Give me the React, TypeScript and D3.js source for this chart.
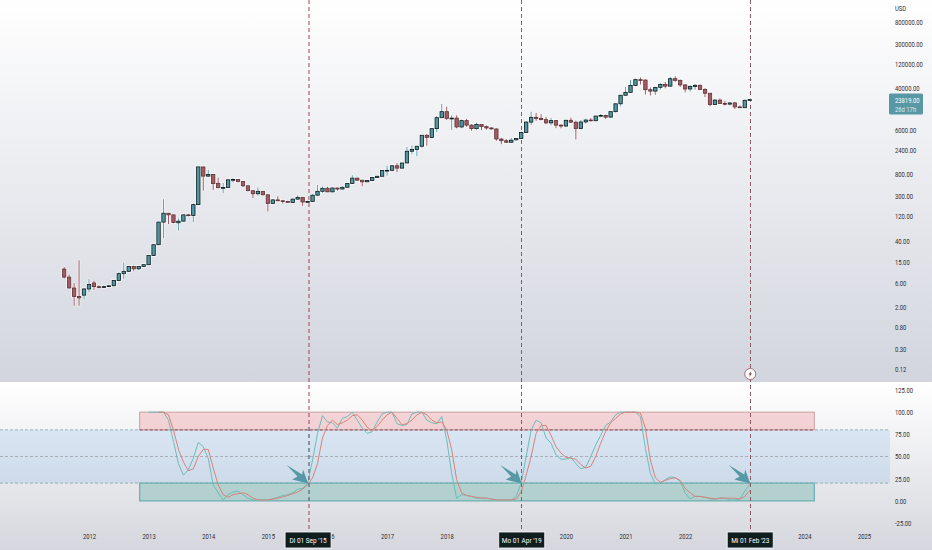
import { useEffect, useRef } from "react";
import * as d3 from "d3";

const width = 932;
const height = 550;
const paneSplit = 382;
const axisX = 890;

// monthly candles, Aug 2011 .. Feb 2023
const opens = [
  11.1, 7.7, 4.7, 3.2, 3.4,
  4.5, 5.9, 5.0, 4.9, 5.0, 5.2, 6.6, 9.0, 10, 12.4, 11.2, 12.5,
  13.5, 20.4, 33.4, 93, 139, 129, 90, 97, 129, 125, 205, 1130,
  745, 800, 538, 440, 445, 630, 640, 585, 480, 385, 335, 375,
  320, 217, 254, 244, 236, 225, 263, 285, 231, 236, 314, 375,
  430, 365, 435, 415, 450, 535, 680, 620, 575, 610, 700, 740,
  960, 970, 1190, 1070, 1350, 2300, 2480, 2880, 4740, 4300, 6400, 10500,
  13800, 10200, 10300, 6900, 9200, 7500, 6400, 7700, 7000, 6600, 6300, 4000,
  3700, 3450, 3850, 4100, 5350, 8600, 10700, 10100, 9600, 8300, 9200, 7500,
  7200, 9350, 8550, 6420, 8650, 9450, 9150, 11300, 11650, 10780, 13800, 19700,
  29000, 33100, 45300, 58800, 57800, 37300, 35000, 41500, 47100, 43800, 61300, 57000,
  46300, 38500, 43200, 45500, 37600, 31800, 19000, 23300, 20000, 19400, 20500, 17100,
  16500, 23100,
];
const highs = [
  12.2, 8.7, 5.9, 16.5, 4.7,
  7.1, 6.6, 5.3, 5.3, 5.3, 6.8, 9.6, 15, 12.6, 13, 12.7, 14,
  21, 33.5, 94, 261, 140, 130, 110, 130, 135, 215, 1135, 1135,
  1000, 810, 700, 545, 640, 680, 650, 600, 490, 395, 450, 380,
  325, 265, 300, 255, 245, 270, 315, 285, 245, 330, 500, 465,
  460, 445, 440, 470, 550, 780, 700, 620, 620, 720, 760, 980,
  1200, 1210, 1350, 1370, 2790, 3000, 2950, 4780, 5000, 6500, 11400, 19600,
  17300, 11700, 11700, 9700, 10000, 7800, 8400, 7700, 7400, 6800, 6500, 4200,
  4000, 4200, 4150, 5600, 9000, 13800, 13000, 12300, 10900, 10400, 9500, 7750,
  9550, 10500, 9200, 9500, 10100, 10400, 11450, 12400, 12100, 14100, 19900, 29300,
  42000, 58300, 61800, 64800, 59500, 41300, 42500, 50500, 52900, 67000, 69000, 59000,
  47900, 45800, 48200, 47400, 40000, 31900, 24600, 25200, 22700, 20900, 21500, 18300,
  23900, 24300,
];
const lows = [
  7.2, 4.6, 2.1, 2.1, 2.8,
  3.9, 4.3, 4.6, 4.7, 4.9, 5.1, 6.4, 7, 9.8, 10, 10.6, 12.2,
  13.3, 20, 33, 45, 85, 88, 63, 95, 120, 92, 200, 385,
  720, 395, 430, 345, 440, 555, 560, 450, 375, 275, 305, 310,
  150, 210, 240, 215, 225, 220, 255, 193, 225, 235, 310, 350,
  360, 360, 385, 410, 440, 525, 605, 470, 570, 605, 695, 735,
  760, 930, 890, 1060, 1340, 2000, 1830, 2700, 2950, 4150, 5500, 10400,
  9400, 6000, 6500, 6500, 7000, 5800, 6100, 6000, 6100, 6200, 3700, 3150,
  3350, 3400, 3750, 4050, 5300, 7500, 9100, 9350, 7800, 7400, 6500, 6450,
  6850, 8400, 3900, 6200, 8100, 8900, 8950, 11000, 9900, 10400, 13200, 17600,
  28800, 32300, 45000, 47000, 30000, 28800, 29300, 37300, 39600, 43300, 53300, 42000,
  33000, 34300, 37300, 37500, 26700, 17600, 18800, 19600, 18200, 18200, 15500, 16300,
  16500, 22800,
];
const closes = [
  7.7, 4.7, 3.2, 3.0, 4.5,
  5.5, 5.0, 4.9, 5.0, 5.2, 6.6, 9.0, 10, 12.4, 11.2, 12.5, 13.5,
  20.4, 33.4, 93, 139, 129, 91, 97, 129, 125, 205, 1130, 745,
  800, 530, 441, 445, 630, 640, 585, 480, 385, 335, 375, 320,
  217, 254, 244, 236, 230, 263, 285, 231, 236, 314, 375, 430,
  365, 435, 415, 450, 535, 680, 620, 575, 610, 700, 740, 960,
  970, 1190, 1070, 1350, 2300, 2500, 2880, 4740, 4300, 6400, 10500, 13800,
  10200, 10300, 6900, 9200, 7500, 6400, 7700, 7000, 6600, 6300, 4000, 3700,
  3450, 3800, 4100, 5350, 8600, 10680, 10100, 9600, 8300, 9200, 7500, 7200,
  9350, 8550, 6420, 8650, 9450, 9150, 11300, 11650, 10780, 13800, 19700, 29000,
  33100, 45300, 58800, 57800, 37300, 35000, 41500, 47100, 43800, 61300, 57000, 46300,
  38500, 43200, 45500, 37600, 31800, 19000, 23300, 20000, 19400, 20500, 17100, 16500,
  23100, 23819,
];

// stoch rsi, K from Jan 2013 and D from Mar 2013
const stochK = [
  100, 100, 100, 100, 91, 67, 42, 29, 35, 48, 66, 61,
  48, 18, 9, 1, 7, 10, 11, 7, 3, 1, 1, 1,
  1, 2, 4, 6, 7, 9, 13, 14, 20, 46, 76, 96,
  89, 88, 82, 93, 95, 100, 91, 82, 76, 78, 89, 98,
  100, 100, 87, 85, 86, 98, 100, 100, 91, 88, 87, 95,
  69, 31, 3, 7, 6, 5, 3, 3, 3, 2, 1, 1,
  1, 1, 5, 20, 50, 80, 91, 88, 71, 65, 52, 47,
  47, 49, 42, 36, 38, 50, 63, 74, 85, 89, 97, 100,
  100, 100, 100, 95, 59, 31, 19, 20, 24, 27, 26, 22,
  9, 2, 5, 5, 4, 2, 2, 3, 3, 1, 1, 2,
  11, 19,
];
const stochD = [
  100, 100, 97, 80, 58, 44, 34, 36, 50, 58,
  58, 37, 18, 7, 4, 7, 8, 9, 7, 3, 1, 1,
  1, 2, 3, 4.5, 6, 8, 10, 13, 18, 26, 42, 71,
  85, 91, 86, 88, 91, 96, 97, 91, 83, 79, 84, 91,
  97, 100, 93, 86, 87, 91, 97, 100, 97, 91, 88, 89,
  80, 58, 24, 9, 6, 5, 4, 3, 3, 2, 1, 1,
  1, 1, 2, 10, 29, 50, 76, 85, 85, 74, 61, 54,
  49, 48, 47, 41, 37, 39, 50, 65, 78, 88, 93, 98,
  100, 100, 100, 99, 82, 46, 26, 21, 23, 25, 26, 23,
  14, 9, 5, 5, 4, 3, 2, 3, 3, 3, 3, 2,
  5, 12,
];

const priceTicks = [800000, 300000, 120000, 40000, 6000, 2400, 800, 300, 120, 40, 15, 6, 2, 0.8, 0.3, 0.12];
const stochTicks = [125, 100, 75, 50, 25, 0, -25];
// 2019 and 2023 sit fully behind the date tags
const yearTicks = [2012, 2013, 2014, 2015, 2016, 2017, 2018, 2020, 2021, 2022, 2024, 2025];
const markerMonths = [49, 92, 138];
const markerLabels = ["Di 01 Sep '15", "Mo 01 Apr '19", "Mi 01 Feb '23"];

const firstYear = 2011;
const firstMonth = 7; // August
const monthIndex = (year: number, month = 0) => (year - firstYear) * 12 + month - firstMonth;

const UP = "#4f97a3";
const DOWN = "#a65a63";
const FONT = "Roboto, 'Liberation Sans', sans-serif";
const SQUEEZE = 0.78;

// the labels in the picture are narrower than Roboto, so squeeze them
const squeeze = (sel: any, factor = SQUEEZE) => {
  sel.each(function (this: SVGTextElement) {
    const len = this.getComputedTextLength();
    if (len > 0) {
      this.setAttribute("textLength", String(len * factor));
      this.setAttribute("lengthAdjust", "spacingAndGlyphs");
    }
  });
};

const buildChart = (ref: SVGSVGElement) => {
  const svg = d3.select(ref);
  svg.selectAll("*").remove();

  const x = d3.scaleLinear().domain([monthIndex(2012), monthIndex(2025)]).range([89, 864]);
  const yPrice = d3.scaleLog().domain([800000, 0.12]).range([22, 369]);
  const yStoch = d3.scaleLinear().domain([125, -25]).range([390, 523]);

  const defs = svg.append("defs");
  const gradient = (id: string, stops: [number, string][]) => {
    const g = defs.append("linearGradient").attr("id", id).attr("x1", 0).attr("x2", 0).attr("y1", 0).attr("y2", 1);
    stops.forEach(([o, c]) => g.append("stop").attr("offset", o).attr("stop-color", c));
  };
  gradient("bgTop", [[0, "#ffffff"], [1, "#d2d5de"]]);
  gradient("bgBottom", [[0, "#ffffff"], [1, "#d6d7de"]]);

  svg.append("rect").attr("width", width).attr("height", paneSplit).attr("fill", "url(#bgTop)");
  svg.append("rect").attr("y", paneSplit).attr("width", width).attr("height", height - paneSplit).attr("fill", "url(#bgBottom)");

  // stoch rsi pane
  const pane = svg.append("g");
  pane.append("rect")
    .attr("x", 0).attr("width", axisX)
    .attr("y", yStoch(80)).attr("height", yStoch(20) - yStoch(80))
    .attr("fill", "rgba(33,130,220,0.12)");
  [[80, "#8fb3b8"], [50, "#a9afb8"], [20, "#8fb3b8"]].forEach(([v, c]) => {
    pane.append("line")
      .attr("x1", 0).attr("x2", axisX)
      .attr("y1", yStoch(v as number)).attr("y2", yStoch(v as number))
      .attr("stroke", c as string).attr("stroke-dasharray", "3 2").attr("stroke-width", 1);
  });

  const boxX0 = x(monthIndex(2012, 10)) + 1;
  const boxX1 = x(monthIndex(2024, 2));
  pane.append("rect")
    .attr("x", boxX0).attr("width", boxX1 - boxX0)
    .attr("y", yStoch(100)).attr("height", yStoch(80) - yStoch(100))
    .attr("fill", "rgba(235,70,80,0.2)").attr("stroke", "#c9a1a1");
  pane.append("line")
    .attr("x1", boxX0).attr("x2", boxX1)
    .attr("y1", yStoch(80)).attr("y2", yStoch(80))
    .attr("stroke", "#9a5560").attr("stroke-dasharray", "3 2");
  pane.append("rect")
    .attr("x", boxX0).attr("width", boxX1 - boxX0)
    .attr("y", yStoch(20)).attr("height", yStoch(0) - yStoch(20))
    .attr("fill", "rgba(40,150,130,0.26)").attr("stroke", "#73b5b5").attr("stroke-width", 1.4);

  const startK = monthIndex(2013);
  const lineK = d3.line<number>().x((_, i) => x(startK + i)).y((d) => yStoch(d));
  const lineD = d3.line<number>().x((_, i) => x(startK + 2 + i)).y((d) => yStoch(d));
  pane.append("path").attr("d", lineK(stochK)).attr("fill", "none").attr("stroke", "#6dbdb8").attr("stroke-width", 1);
  pane.append("path").attr("d", lineD(stochD)).attr("fill", "none").attr("stroke", "#d8837c").attr("stroke-width", 1);

  // vertical markers
  markerMonths.forEach((m, i) => {
    const px = Math.round(x(m)) + 0.5 + (i === 0 ? 0.5 : 0);
    svg.append("line")
      .attr("x1", px).attr("x2", px).attr("y1", 0).attr("y2", 529)
      .attr("stroke", "#a8404f").attr("stroke-dasharray", "4 3");
    const teal = svg.append("line")
      .attr("x1", px).attr("x2", px).attr("y1", 0)
      .attr("stroke", "#4f97a3").attr("stroke-dasharray", "4 3");
    if (i === 0) teal.attr("y1", 427).attr("y2", yStoch(0));
    else teal.attr("y2", 529).attr("stroke-opacity", 0.3);
  });

  // arrows pointing at the oversold exits
  const arrow = () => {
    const p = d3.path();
    p.moveTo(0, 0);
    p.lineTo(-16, -4);
    p.lineTo(-10.5, -7);
    p.lineTo(-21.5, -18.5);
    p.lineTo(-6, -9);
    p.lineTo(-5, -14);
    p.closePath();
    return p.toString();
  };
  markerMonths.forEach((m) => {
    svg.append("path")
      .attr("d", arrow())
      .attr("transform", `translate(${x(m) + 0.5} ${yStoch(20) + 0.5})`)
      .attr("fill", "#5698a5");
  });

  // candles
  const candles = d3.range(closes.length).map((i) => ({
    i, o: opens[i], h: highs[i], l: lows[i], c: closes[i],
  }));
  const barW = 3.4;
  const g = svg.append("g");
  g.selectAll("line.halo").data(candles).enter().append("line")
    .attr("x1", (d) => x(d.i)).attr("x2", (d) => x(d.i))
    .attr("y1", (d) => yPrice(d.h) - 0.5).attr("y2", (d) => yPrice(d.l) + 0.5)
    .attr("stroke", "#ffffff").attr("stroke-width", 2.4).attr("stroke-opacity", 0.75);
  g.selectAll("rect.halo").data(candles).enter().append("rect")
    .attr("x", (d) => x(d.i) - barW / 2 - 1.1)
    .attr("width", barW + 2.2)
    .attr("y", (d) => Math.min(yPrice(d.o), yPrice(d.c)) - 1.1)
    .attr("height", (d) => Math.abs(yPrice(d.o) - yPrice(d.c)) + 2.2)
    .attr("fill", "#ffffff").attr("fill-opacity", 0.85);
  g.selectAll("line.wick").data(candles).enter().append("line")
    .attr("x1", (d) => x(d.i)).attr("x2", (d) => x(d.i))
    .attr("y1", (d) => yPrice(d.h)).attr("y2", (d) => yPrice(d.l))
    .attr("stroke", (d) => (d.c >= d.o ? "#5fa3ad" : DOWN)).attr("stroke-width", 1);
  g.selectAll("rect.body").data(candles).enter().append("rect")
    .attr("x", (d) => x(d.i) - barW / 2)
    .attr("width", barW)
    .attr("y", (d) => Math.min(yPrice(d.o), yPrice(d.c)))
    .attr("height", (d) => Math.max(0.8, Math.abs(yPrice(d.o) - yPrice(d.c))))
    .attr("fill", (d) => (d.c >= d.o ? UP : DOWN))
    .attr("stroke", (d) => (d.c >= d.o ? "#0d1a1c" : "#5a3238"))
    .attr("stroke-width", 0.8);

  // right axes
  const styleAxis = (sel: any) => {
    sel.select(".domain").remove();
    sel.selectAll("text")
      .attr("fill", "#2a2e39")
      .style("font-family", FONT)
      .style("font-size", "7.5px")
      .call(squeeze);
  };
  svg.append("g")
    .attr("transform", `translate(${axisX} 0)`)
    .call(d3.axisRight(yPrice).tickValues(priceTicks).tickSize(0).tickPadding(5).tickFormat((d: any) => d3.format(".2f")(d)))
    .call(styleAxis);
  svg.append("g")
    .attr("transform", `translate(${axisX} 0)`)
    .call(d3.axisRight(yStoch).tickValues(stochTicks).tickSize(0).tickPadding(5).tickFormat((d: any) => d3.format(".2f")(d).replace("−", "-")))
    .call(styleAxis);
  svg.append("text").text("USD")
    .attr("x", 895).attr("y", 11)
    .attr("fill", "#2a2e39").style("font-family", FONT).style("font-size", "7.5px")
    .call(squeeze);

  // time axis
  svg.append("g")
    .attr("transform", "translate(0 532)")
    .call(d3.axisBottom(x).tickValues(yearTicks.map((yr) => monthIndex(yr))).tickSize(0).tickPadding(2)
      .tickFormat((_: any, i: number) => String(yearTicks[i])))
    .call(styleAxis);

  // last price tag
  const lastY = yPrice(closes[closes.length - 1]);
  svg.append("rect")
    .attr("x", 889).attr("y", lastY - 6).attr("width", 34).attr("height", 21).attr("rx", 1.5)
    .attr("fill", "#5898a5");
  svg.append("text").text("23819.00")
    .attr("x", 895).attr("y", lastY + 3)
    .attr("fill", "#ffffff").style("font-family", FONT).style("font-size", "7.5px")
    .call(squeeze);
  svg.append("text").text("26d 17h")
    .attr("x", 895).attr("y", lastY + 12)
    .attr("fill", "#dcecee").style("font-family", FONT).style("font-size", "7.5px")
    .call(squeeze);

  // date tags on the crosshair lines
  markerMonths.forEach((m, i) => {
    const cx = x(m) + 0.5;
    svg.append("rect")
      .attr("x", cx - 23).attr("y", 532).attr("width", 46).attr("height", 16)
      .attr("fill", "#101d1f").attr("stroke", "#ffffff").attr("stroke-opacity", 0.8);
    svg.append("text").text(markerLabels[i])
      .attr("x", cx).attr("y", 543).attr("text-anchor", "middle")
      .attr("fill", "#ffffff").style("font-family", FONT).style("font-size", "7.5px")
      .call(squeeze, 0.86);
  });

  // alert badge on the last marker
  const bx = x(markerMonths[2]) + 0.5;
  const by = 374;
  svg.append("circle").attr("cx", bx).attr("cy", by).attr("r", 5.5)
    .attr("fill", "#ffffff").attr("stroke", "#a8707a").attr("stroke-width", 1);
  const bolt = d3.path();
  bolt.moveTo(bx + 1.2, by - 3.2);
  bolt.lineTo(bx - 1.8, by + 0.6);
  bolt.lineTo(bx - 0.1, by + 0.6);
  bolt.lineTo(bx - 1.2, by + 3.2);
  bolt.lineTo(bx + 1.8, by - 0.6);
  bolt.lineTo(bx + 0.1, by - 0.6);
  bolt.closePath();
  svg.append("path").attr("d", bolt.toString()).attr("fill", "#7a3a46");
};

export default function App() {
  const ref = useRef<SVGSVGElement>(null);
  useEffect(() => {
    if (ref.current) buildChart(ref.current);
  }, []);
  return (
    <svg
      ref={ref}
      width={width}
      height={height}
      style={{ position: "absolute", left: 0, top: 0, display: "block" }}
    />
  );
}
